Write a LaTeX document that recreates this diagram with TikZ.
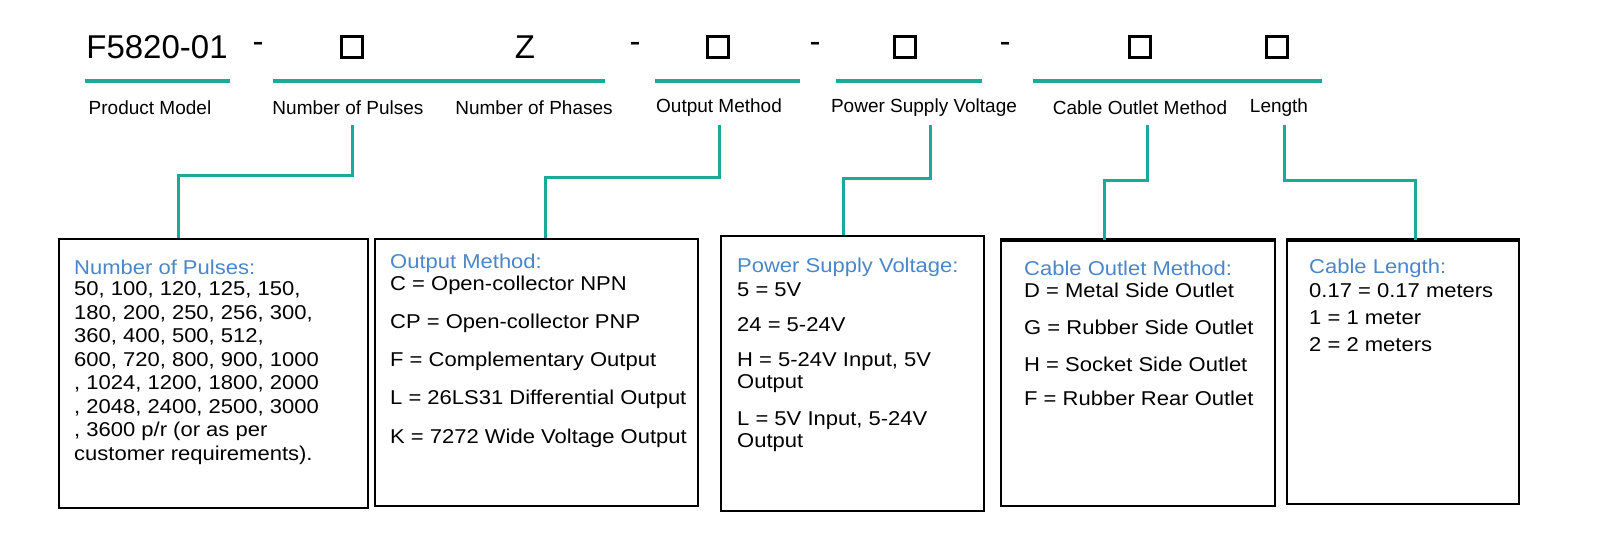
\documentclass[tikz,border=0pt]{standalone}
\usepackage{fontspec}
\setmainfont{Liberation Sans}
\newfontfamily\wideFont[FakeStretch=1.1]{Liberation Sans}
\definecolor{teal1}{HTML}{1AAA9B}
\definecolor{blue1}{HTML}{4A86C8}
\begin{document}
\begin{tikzpicture}[x=1pt,y=-1pt,
  tl/.style={line width=3.5pt,teal1},
  cn/.style={line width=3pt,teal1},
  bx/.style={draw,line width=2.2pt},
  sq/.style={draw,line width=3pt,minimum size=21pt,inner sep=0pt},
  big/.style={font=\fontsize{33}{36}\selectfont,inner sep=0pt},
  lab/.style={font=\fontsize{19}{22}\selectfont,inner sep=0pt},
  tx/.style={font=\wideFont\fontsize{20}{22}\selectfont,inner sep=0pt,anchor=west},
  ti/.style={tx,text=blue1}]
\useasboundingbox (0,0) rectangle (1607,556);
% top row
\node[big] (m) at (157,47) {F5820-01};
\node[big] (d1) at (258,47) {-};
\node[sq] (s1) at (352,47) {};
\node[big] (z) at (525,47) {Z};
\node[big] (d2) at (635,47) {-};
\node[sq] (s2) at (718,47) {};
\node[big] (d3) at (815,47) {-};
\node[sq] (s3) at (905,47) {};
\node[big] (d4) at (1005,47) {-};
\node[sq] (s4) at (1140,47) {};
\node[sq] (s5) at (1277,47) {};
\draw[tl] (85,81) -- (230,81);
\draw[tl] (273,81) -- (605,81);
\draw[tl] (655,81) -- (800,81);
\draw[tl] (836,81) -- (982,81);
\draw[tl] (1033,81) -- (1322,81);
\node[lab] (l1) at (150,108) {Product Model};
\node[lab] (l2) at (348,108) {Number of Pulses};
\node[lab] (l3) at (534,108) {Number of Phases};
\node[lab] (l4) at (719,108) {Output Method};
\node[lab] (l5) at (924,108) {Power Supply Voltage};
\node[lab] (l6) at (1140,108) {Cable Outlet Method};
\node[lab] (l7) at (1279,108) {Length};
% boxes
\node[bx,minimum width=309pt,minimum height=269pt,anchor=north west] (b1) at (58,238) {};
\node[bx,minimum width=323pt,minimum height=267pt,anchor=north west] (b2) at (374,238) {};
\node[bx,minimum width=263pt,minimum height=275pt,anchor=north west] (b3) at (720,235) {};
\node[bx,minimum width=274pt,minimum height=265pt,anchor=north west] (b4) at (1000,240) {};
\node[bx,minimum width=232pt,minimum height=263pt,anchor=north west] (b5) at (1286,240) {};
\draw[line width=3.5pt] (b4.north west) -- (b4.north east);
\draw[line width=3.5pt] (b5.north west) -- (b5.north east);
% connectors
\draw[cn] (352,125) -- (352,176) -- (178,176) -- (178,238);
\draw[cn] (719,125) -- (719,178) -- (545,178) -- (545,238);
\draw[cn] (930,125) -- (930,179) -- (843,179) -- (843,235);
\draw[cn] (1147,125) -- (1147,181) -- (1104,181) -- (1104,240);
\draw[cn] (1284,125) -- (1284,181) -- (1415,181) -- (1415,240);
% box 1
\node[ti] (a0) at (74,267) {Number of Pulses:};
\node[tx] (a1) at (74,290) {50, 100, 120, 125, 150,};
\node[tx] (a2) at (74,314) {180, 200, 250, 256, 300,};
\node[tx] (a3) at (74,337) {360, 400, 500, 512,};
\node[tx] (a4) at (74,361) {600, 720, 800, 900, 1000};
\node[tx] (a5) at (74,384) {, 1024, 1200, 1800, 2000};
\node[tx] (a6) at (74,408) {, 2048, 2400, 2500, 3000};
\node[tx] (a7) at (74,431) {, 3600 p/r (or as per};
\node[tx] (a8) at (74,455) {customer requirements).};
% box 2
\node[ti] (c0) at (390,263) {Output Method:};
\node[tx] (c1) at (390,285) {C = Open-collector NPN};
\node[tx] (c2) at (390,323) {CP = Open-collector PNP};
\node[tx] (c3) at (390,361) {F = Complementary Output};
\node[tx] (c4) at (390,399) {L = 26LS31 Differential Output};
\node[tx] (c5) at (390,438) {K = 7272 Wide Voltage Output};
% box 3
\node[ti] (e0) at (737,267) {Power Supply Voltage:};
\node[tx] (e1) at (737,290) {5 = 5V};
\node[tx] (e2) at (737,325) {24 = 5-24V};
\node[tx] (e3) at (737,362) {H = 5-24V Input, 5V};
\node[tx] (e4) at (737,384) {Output};
\node[tx] (e5) at (737,421) {L = 5V Input, 5-24V};
\node[tx] (e6) at (737,443) {Output};
% box 4
\node[ti] (g0) at (1024,268) {Cable Outlet Method:};
\node[tx] (g1) at (1024,290) {D = Metal Side Outlet};
\node[tx] (g2) at (1024,327) {G = Rubber Side Outlet};
\node[tx] (g3) at (1024,364) {H = Socket Side Outlet};
\node[tx] (g4) at (1024,398) {F = Rubber Rear Outlet};
% box 5
\node[ti] (h0) at (1309,268) {Cable Length:};
\node[tx] (h1) at (1309,291) {0.17 = 0.17 meters};
\node[tx] (h2) at (1309,318) {1 = 1 meter};
\node[tx] (h3) at (1309,345) {2 = 2 meters};
\end{tikzpicture}
\end{document}
